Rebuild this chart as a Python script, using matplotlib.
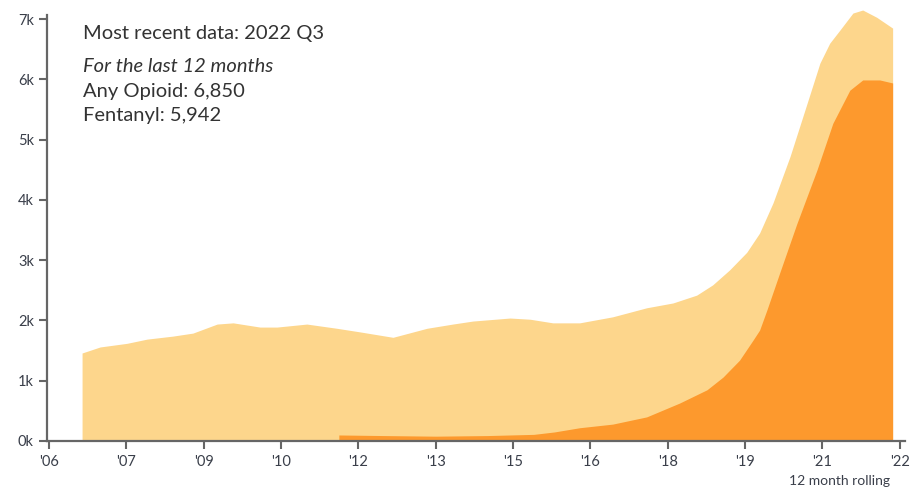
import matplotlib
matplotlib.use("Agg")
from matplotlib import pyplot as plt

# 12 month rolling counts (thousands), x in decimal years
opioid_year = [2006.64, 2006.99, 2007.51, 2007.90, 2008.40, 2008.79, 2009.26, 2009.57,
               2010.09, 2010.42, 2011.00, 2011.58, 2012.03, 2012.67, 2013.33, 2013.83,
               2014.22, 2014.94, 2015.33, 2015.77, 2016.29, 2016.93, 2017.59, 2018.10,
               2018.56, 2018.87, 2019.20, 2019.53, 2019.78, 2020.04, 2020.37, 2020.70,
               2020.95, 2021.14, 2021.34, 2021.59, 2021.78, 2022.05, 2022.36]
opioid_k = [1.46, 1.56, 1.62, 1.69, 1.74, 1.79, 1.94, 1.96,
            1.89, 1.89, 1.94, 1.87, 1.81, 1.72, 1.87, 1.94,
            1.99, 2.04, 2.02, 1.96, 1.96, 2.06, 2.21, 2.29,
            2.42, 2.59, 2.84, 3.13, 3.45, 3.95, 4.72, 5.60,
            6.27, 6.60, 6.82, 7.10, 7.15, 7.03, 6.85]

fent_year = [2011.62, 2012.50, 2013.50, 2014.50, 2015.40, 2015.80, 2016.29, 2016.93,
             2017.59, 2018.23, 2018.76, 2019.07, 2019.39, 2019.65, 2019.78, 2019.92,
             2020.17, 2020.50, 2020.89, 2021.20, 2021.53, 2021.78, 2022.11, 2022.36]
fent_k = [0.10, 0.09, 0.08, 0.09, 0.11, 0.15, 0.22, 0.28,
          0.40, 0.63, 0.85, 1.06, 1.34, 1.67, 1.84, 2.17,
          2.79, 3.60, 4.49, 5.27, 5.82, 5.99, 5.99, 5.94]

tick_years = [2006 + 1.5 * i for i in range(12)]
tick_labels = ["'06", "'07", "'09", "'10", "'12", "'13", "'15", "'16", "'18", "'19", "'21", "'22"]
ytick_vals = [0, 1, 2, 3, 4, 5, 6, 7]
ytick_labels = ["0k", "1k", "2k", "3k", "4k", "5k", "6k", "7k"]

plt.rcParams['font.family'] = ['Lato', 'DejaVu Sans']

fig = plt.figure(figsize=(9.1, 4.91), dpi=100)
# y = 0 sits at 441 px from the top, 1k = 60.3 px
ax = fig.add_axes([47 / 910, 50 / 491, 858 / 910, 437 / 491])

ax.fill_between(opioid_year, opioid_k, 0, color='#fdd68c', lw=0)
ax.fill_between(fent_year, fent_k, 0, color='#fd992d', lw=0)

ax.set_xlim(2005.96, 2022.60)
ax.set_ylim(0, 7.25)
ax.spines['left'].set_bounds(0, 7.07)
ax.set_xticks(tick_years)
ax.set_xticklabels(tick_labels)
ax.set_yticks(ytick_vals)
ax.set_yticklabels(ytick_labels)

for side in ['top', 'right']:
    ax.spines[side].set_visible(False)
for side in ['left', 'bottom']:
    ax.spines[side].set_color('#666666')
    ax.spines[side].set_linewidth(1.6)
ax.tick_params(colors='#666666', width=1.5, length=6, labelsize=10.5, labelcolor='#3a3f4a')
ax.tick_params(axis='x', pad=4)

txt = '#333333'
fs = 14.5
x0 = 83 / 910
fig.text(x0, 1 - 34 / 491, 'Most recent data: 2022 Q3', fontsize=fs, color=txt, va='center')
fig.text(x0, 1 - 67 / 491, 'For the last 12 months', fontsize=fs, color=txt, va='center',
         style='italic')
fig.text(x0, 1 - 91 / 491, 'Any Opioid: 6,850', fontsize=fs, color=txt, va='center')
fig.text(x0, 1 - 115 / 491, 'Fentanyl: 5,942', fontsize=fs, color=txt, va='center')
fig.text(890 / 910, 1 - 481 / 491, '12 month rolling', fontsize=10, color='#3a3f4a',
         ha='right', va='center')

fig.savefig('out.png', dpi=100)
